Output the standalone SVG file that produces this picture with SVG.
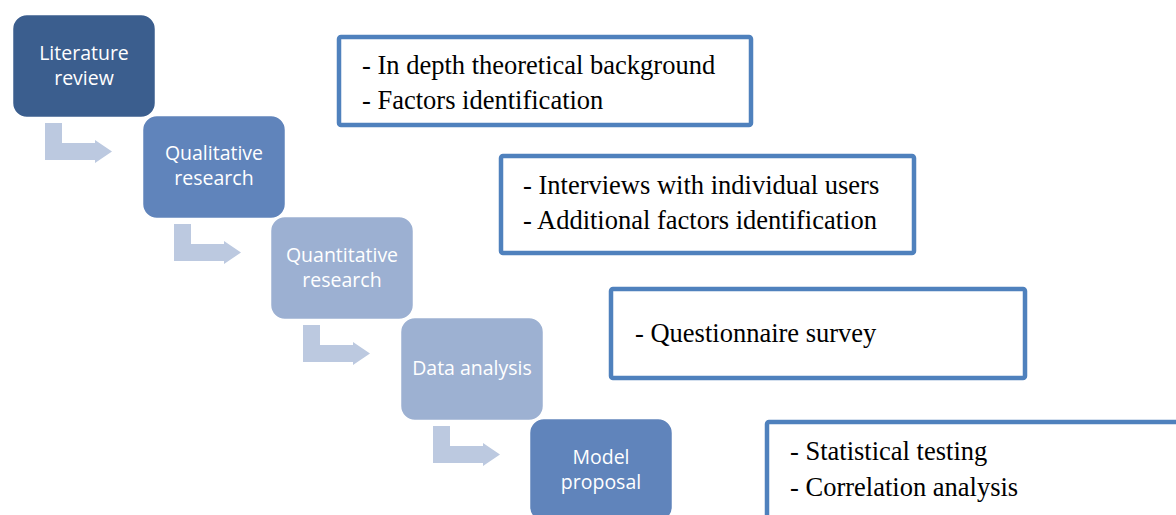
<svg xmlns="http://www.w3.org/2000/svg" width="1176" height="515" viewBox="0 0 1176 515">
<style>
.node{stroke:#ffffff;stroke-width:2.5}
.nt{font-family:"Open Sans","Noto Sans",sans-serif;font-size:19.5px;fill:#ffffff;text-anchor:middle}
.box{fill:#ffffff;stroke:#4F81BD;stroke-width:4.5}
.bt{font-family:"Liberation Serif","Times New Roman",serif;font-size:26.5px;fill:#000000}
.arr{fill:#BCC9E0}
</style>
<defs>
<path id="bent" d="M0,0 H17 V20 H50 V17 L67,28.5 L50,40 V37 H0 Z"/>
</defs>
<rect width="1176" height="515" fill="#ffffff"/>
<g id="connectors">
<use href="#bent" class="arr" x="45" y="123"/>
<use href="#bent" class="arr" x="174" y="224"/>
<use href="#bent" class="arr" x="303" y="325"/>
<use href="#bent" class="arr" x="433" y="426"/>
</g>
<g id="node-literature">
<rect class="node" x="12" y="14" width="144" height="104" rx="15" fill="#3B5E8E"/>
<text class="nt" x="84" y="60">Literature</text>
<text class="nt" x="84" y="85">review</text>
</g>
<g id="node-qualitative">
<rect class="node" x="142" y="115" width="144" height="104" rx="15" fill="#6084BB"/>
<text class="nt" x="214" y="160">Qualitative</text>
<text class="nt" x="214" y="185">research</text>
</g>
<g id="node-quantitative">
<rect class="node" x="270" y="216" width="144" height="104" rx="15" fill="#9CB0D2"/>
<text class="nt" x="342" y="262">Quantitative</text>
<text class="nt" x="342" y="287">research</text>
</g>
<g id="node-data">
<rect class="node" x="400" y="317" width="144" height="104" rx="15" fill="#9DB1D2"/>
<text class="nt" x="472" y="375">Data analysis</text>
</g>
<g id="node-model">
<rect class="node" x="529" y="418" width="144" height="104" rx="15" fill="#6084BB"/>
<text class="nt" x="601" y="464">Model</text>
<text class="nt" x="601" y="489">proposal</text>
</g>
<g id="box-literature">
<rect class="box" x="339" y="37" width="412" height="88" rx="2"/>
<text class="bt" x="362" y="74">- In depth theoretical background</text>
<text class="bt" x="362" y="109">- Factors identification</text>
</g>
<g id="box-qualitative">
<rect class="box" x="501" y="156" width="413" height="97" rx="2"/>
<text class="bt" x="523" y="194">- Interviews with individual users</text>
<text class="bt" x="523" y="229">- Additional factors identification</text>
</g>
<g id="box-quantitative">
<rect class="box" x="611" y="289" width="414" height="89" rx="2"/>
<text class="bt" x="635" y="342">- Questionnaire survey</text>
</g>
<g id="box-data">
<rect class="box" x="767" y="422" width="420" height="110" rx="2"/>
<text class="bt" x="790" y="460">- Statistical testing</text>
<text class="bt" x="790" y="496">- Correlation analysis</text>
</g>
</svg>
